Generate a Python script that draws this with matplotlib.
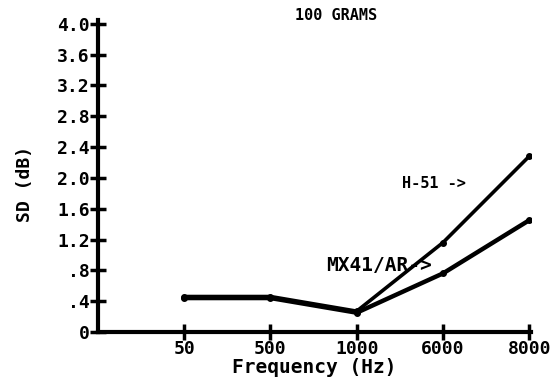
import matplotlib
matplotlib.use("Agg")
import matplotlib.pyplot as plt

freq_labels = ["50", "500", "1000", "6000", "8000"]
h51 = [0.46, 0.46, 0.27, 1.16, 2.28]
mx41 = [0.44, 0.44, 0.25, 0.76, 1.45]
y_ticks = [0, 0.4, 0.8, 1.2, 1.6, 2.0, 2.4, 2.8, 3.2, 3.6, 4.0]
y_tick_labels = ["0", ".4", ".8", "1.2", "1.6", "2.0", "2.4", "2.8", "3.2", "3.6", "4.0"]

font = {"family": "DejaVu Sans Mono", "weight": "bold"}

fig = plt.figure(figsize=(5.55, 3.91), dpi=100)
ax = fig.add_axes([0.1766, 0.151, 0.780, 0.798])

x = list(range(1, len(freq_labels) + 1))
ax.plot(x, h51, color="black", lw=2.6, marker="o", ms=4, solid_capstyle="round", solid_joinstyle="round")
ax.plot(x, mx41, color="black", lw=3.2, marker="o", ms=4, solid_capstyle="round", solid_joinstyle="round")

ax.set_xlim(0, 5.02)
ax.set_ylim(0, 4.05)
ax.set_xticks(x)
ax.set_xticklabels(freq_labels, fontdict=dict(size=13, **font))
ax.set_yticks(y_ticks)
ax.set_yticklabels(y_tick_labels, fontdict=dict(size=13, **font))
ax.tick_params(axis="both", direction="inout", length=12, width=2.5, color="black", pad=0)

for side in ("top", "right"):
    ax.spines[side].set_visible(False)
for side in ("left", "bottom"):
    ax.spines[side].set_linewidth(3)

fig.text(336 / 555, 1 - 16 / 391, "100 GRAMS", fontdict=dict(size=11, **font),
         ha="center", va="center")
ax.set_xlabel("Frequency (Hz)", fontdict=dict(size=14, **font), labelpad=0)
fig.text(25 / 555, 1 - 184 / 391, "SD (dB)", fontdict=dict(size=13, **font),
         ha="center", va="center", rotation=90)

ax.text(3.52, 1.93, "H-51 ->", fontdict=dict(size=11, **font), ha="left", va="center")
ax.text(2.65, 0.86, "MX41/AR->", fontdict=dict(size=14, **font), ha="left", va="center")

fig.savefig("out.png", dpi=100)
